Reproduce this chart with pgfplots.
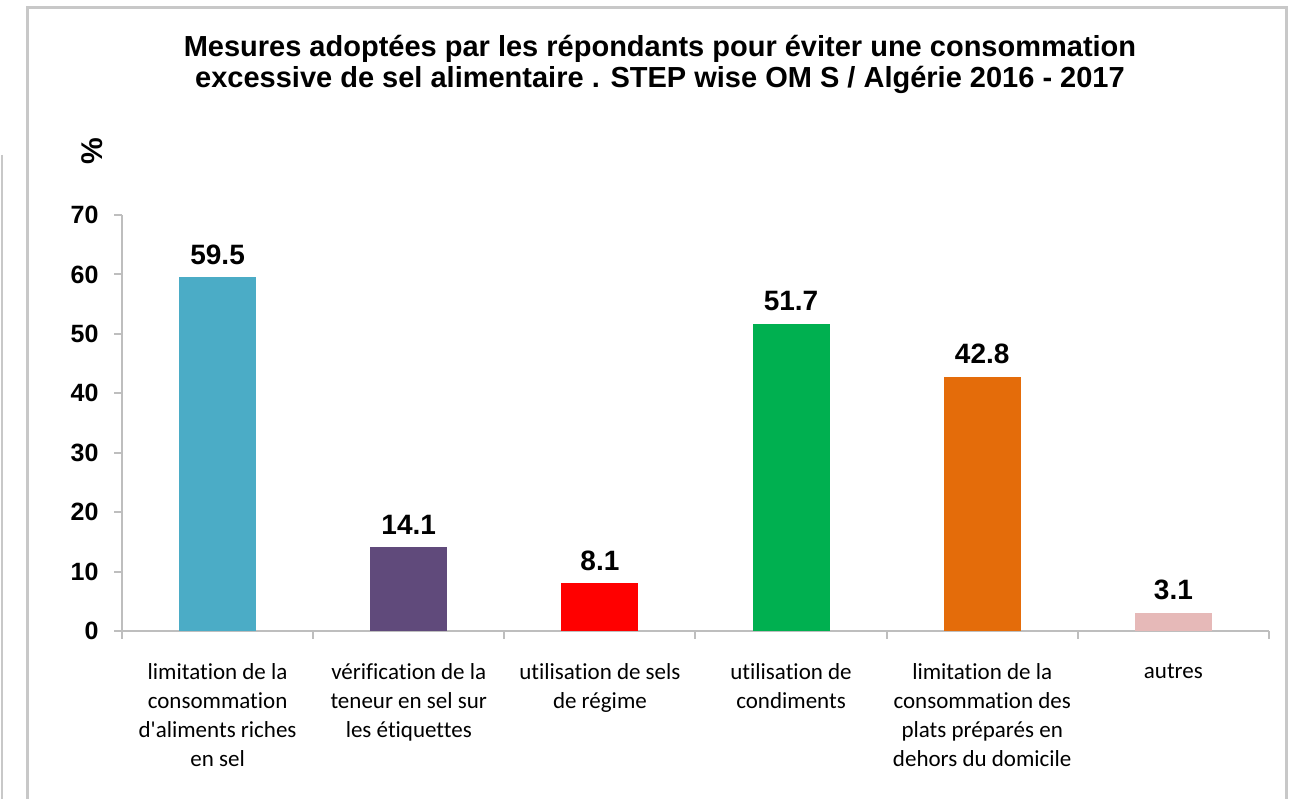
\documentclass[border=0pt]{standalone}
\usepackage{pgfplots}
\pgfplotsset{compat=1.18}
\usepackage{fontspec}
\setmainfont{Liberation Sans}
\newfontfamily\carlito[Ligatures=NoCommon]{Carlito}
\definecolor{cA}{RGB}{75,172,198}
\definecolor{cB}{RGB}{96,74,123}
\definecolor{cC}{RGB}{255,0,0}
\definecolor{cD}{RGB}{0,176,80}
\definecolor{cE}{RGB}{228,108,10}
\definecolor{cF}{RGB}{230,185,184}
\definecolor{axgray}{RGB}{190,190,190}
\definecolor{framegray}{RGB}{200,200,200}
\begin{document}
\begin{tikzpicture}[x=1pt,y=1pt]
\useasboundingbox (0,0) rectangle (1294,799);
\fill[white] (0,0) rectangle (1294,799);
% chart frame
\draw[line width=3pt, framegray] (27,-10) -- (27,791) -- (1286,791) -- (1286,-10);
\draw[line width=1.5pt, framegray] (2,644) -- (2,-10);
% title
\node[font=\bfseries\fontsize{29}{31}\selectfont, align=center] at (660,735)
  {Mesures adoptées par les répondants pour éviter une consommation\\
   excessive de sel alimentaire . STEP wise OM S / Algérie 2016 - 2017};
\node[rotate=90, font=\bfseries\fontsize{30}{30}\selectfont] at (92,648) {\%};
\begin{axis}[
    at={(122pt,168pt)}, anchor=south west,
    scale only axis,
    width=1147pt, height=416pt,
    xmin=-0.5, xmax=5.5,
    ymin=0, ymax=70,
    axis x line*=bottom, axis y line*=left,
    axis line style={axgray, line width=2pt, -},
    xtick={0,...,5},
    xticklabels={
      {limitation de la\\consommation\\d'aliments riches\\en sel},
      {vérification de la\\teneur en sel sur\\les étiquettes},
      {utilisation de sels\\de régime},
      {utilisation de\\condiments},
      {limitation de la\\consommation des\\plats préparés en\\dehors du domicile},
      {autres}},
    minor xtick={-0.5,0.5,...,5.5},
    major x tick style={draw=none},
    minor tick length=8pt,
    major tick length=8pt,
    tick align=outside,
    tick style={axgray, line width=2pt},
    ytick={0,10,...,70},
    xticklabel style={font=\carlito\fontsize{23}{29}\selectfont,
      align=center, yshift=-21pt, text=black},
    yticklabel style={font=\bfseries\fontsize{25}{25}\selectfont, xshift=-12pt},
    /pgf/number format/assume math mode=true,
    nodes near coords,
    nodes near coords style={font=\bfseries\fontsize{28}{28}\selectfont, yshift=9pt,
      /pgf/number format/fixed, /pgf/number format/precision=1,
      /pgf/number format/fixed zerofill},
    clip=false,
]
\addplot[ybar, bar width=77pt, bar shift=0pt, fill=cA, draw=none] coordinates {(0,59.5)};
\addplot[ybar, bar width=77pt, bar shift=0pt, fill=cB, draw=none] coordinates {(1,14.1)};
\addplot[ybar, bar width=77pt, bar shift=0pt, fill=cC, draw=none] coordinates {(2,8.1)};
\addplot[ybar, bar width=77pt, bar shift=0pt, fill=cD, draw=none] coordinates {(3,51.7)};
\addplot[ybar, bar width=77pt, bar shift=0pt, fill=cE, draw=none] coordinates {(4,42.8)};
\addplot[ybar, bar width=77pt, bar shift=0pt, fill=cF, draw=none] coordinates {(5,3.1)};
\end{axis}
\end{tikzpicture}
\end{document}
